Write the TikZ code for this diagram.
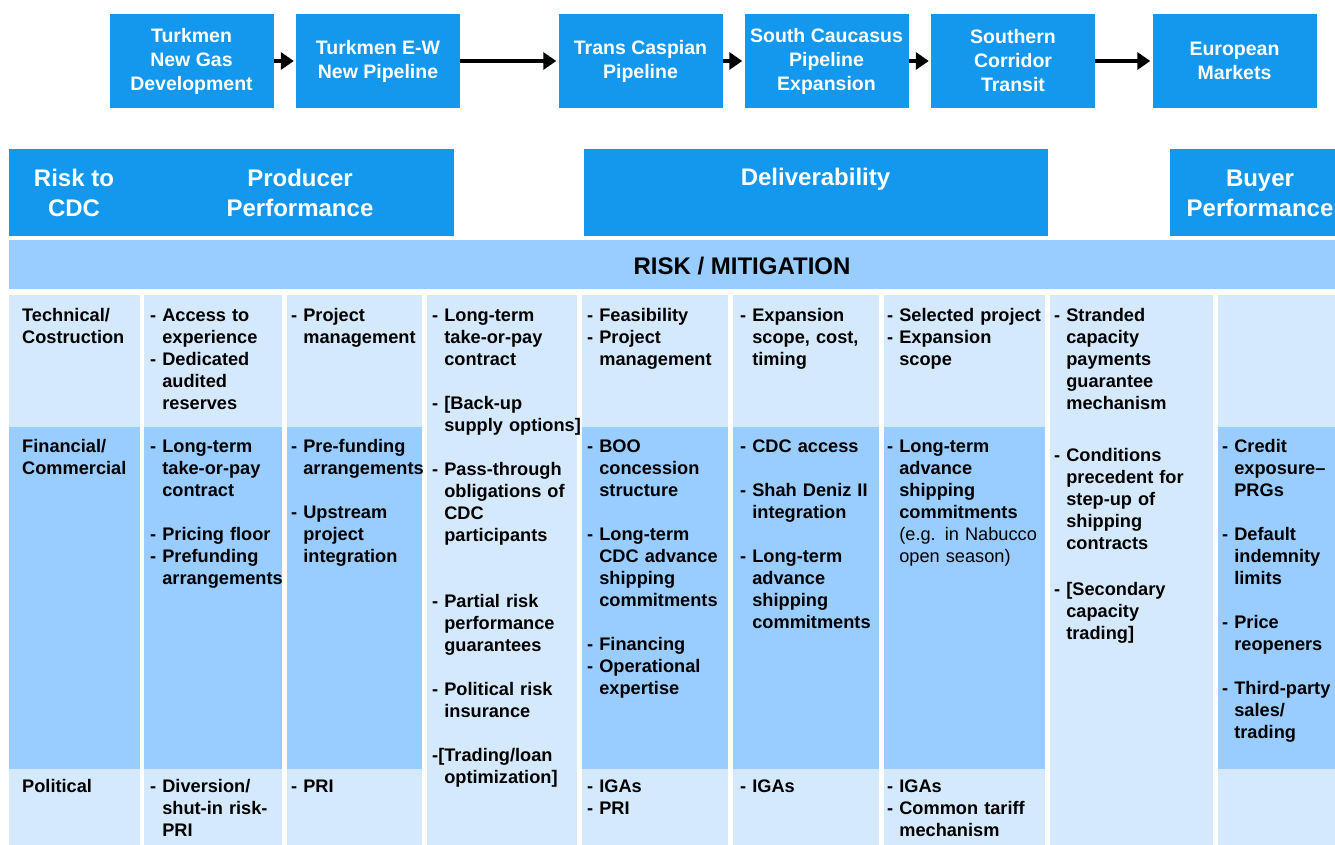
\documentclass[tikz,border=0pt]{standalone}
\usepackage{fontspec}
\setmainfont{Liberation Sans}
\usetikzlibrary{arrows.meta}
\definecolor{topblue}{RGB}{20,152,238}
\definecolor{midblue}{RGB}{153,204,255}
\definecolor{lightblue}{RGB}{213,233,252}
\newcommand\ind{\hphantom{- }}
\newcommand\cellfont{\fontsize{18.2}{22}\selectfont\bfseries}
\newcommand\topfont{\fontsize{19.5}{24}\selectfont\bfseries}
\newcommand\headfont{\fontsize{24}{30}\selectfont\bfseries}
\begin{document}
\begin{tikzpicture}[x=1pt,y=-1pt,
  topbox/.style={fill=topblue, minimum width=164pt, minimum height=94pt, inner sep=0pt, text=white, font=\topfont, align=center},
  flow/.style={line width=4pt, -{Triangle[length=13pt,width=17pt]}, shorten >=2pt},
  headbar/.style={fill=topblue, inner sep=0pt, anchor=north west, minimum height=87pt},
  headtext/.style={text=white, font=\headfont, align=center, inner sep=0pt},
  cell/.style={anchor=north west, inner sep=0pt, yshift=13.4pt, text width=220pt, align=left, font=\cellfont},
]
\path[use as bounding box, clip] (0,0) rectangle (1335,845);
\fill[white] (0,0) rectangle (1335,845);

% top flow
\node[topbox] (b1) at (191.5,61) {Turkmen\\New Gas\\Development};
\node[topbox] (b2) at (378,61) {Turkmen E-W\\New Pipeline};
\node[topbox] (b3) at (640.5,61) {Trans Caspian\\Pipeline};
\node[topbox] (b4) at (826.5,61) {South Caucasus\\Pipeline\\Expansion};
\node[topbox] (b5) at (1013,61) {Southern\\Corridor\\Transit};
\node[topbox] (b6) at (1234.5,61) {European\\Markets};
\draw[flow] (b1) -- (b2);
\draw[flow] (b2) -- (b3);
\draw[flow] (b3) -- (b4);
\draw[flow] (b4) -- (b5);
\draw[flow] (b5) -- (b6);

% header bars
\node[headbar, minimum width=445pt] (h1) at (9,149) {};
\node[headbar, minimum width=464pt] (h2) at (584,149) {};
\node[headbar, minimum width=180pt] (h3) at (1170,149) {};
\node[headtext] (t1) at (74,193) {Risk to\\CDC};
\node[headtext] (t2) at (300,193) {Producer\\Performance};
\node[headtext] (t3) at (815.5,179) {Deliverability};
\node[headtext] (t4) at (1260,193) {Buyer\\Performance};

% band
\node[fill=midblue, inner sep=0pt, anchor=north west, minimum width=1330pt, minimum height=49pt] (band) at (9,240) {};
\node[font=\fontsize{24}{28}\selectfont\bfseries, inner sep=0pt] (bandtext) at (742,266) {RISK / MITIGATION};

% cells
\foreach \a/\b in {9/140,144/282,287/422,582/728,733/879,884/1045,1218/1335} {
  \fill[lightblue] (\a,295) rectangle (\b,427);
  \fill[midblue] (\a,427) rectangle (\b,769);
  \fill[lightblue] (\a,769) rectangle (\b,845);
}
\fill[lightblue] (427,295) rectangle (577,845);
\fill[lightblue] (1050,295) rectangle (1213,845);

% column 0
\node[cell] (c01) at (22,322) {Technical/\\Costruction};
\node[cell] (c02) at (22,453) {Financial/\\Commercial};
\node[cell] (c03) at (22,793) {Political};

% column 1
\node[cell] (c11) at (150,322) {- Access to\\\ind experience\\- Dedicated\\\ind audited\\\ind reserves};
\node[cell] (c12) at (150,453) {- Long-term\\\ind take-or-pay\\\ind contract\\[22pt]- Pricing floor\\- Prefunding\\\ind arrangements};
\node[cell] (c13) at (150,793) {- Diversion/\\\ind shut-in risk-\\\ind PRI};

% column 2
\node[cell] (c21) at (291,322) {- Project\\\ind management};
\node[cell] (c22) at (291,453) {- Pre-funding\\\ind arrangements\\[22pt]- Upstream\\\ind project\\\ind integration};
\node[cell] (c23) at (291,793) {- PRI};

% column 3
\node[cell] (c3) at (432,322) {- Long-term\\\ind take-or-pay\\\ind contract\\[22pt]- [Back-up\\\ind supply options]\\[22pt]- Pass-through\\\ind obligations of\\\ind CDC\\\ind participants\\[44pt]- Partial risk\\\ind performance\\\ind guarantees\\[22pt]- Political risk\\\ind insurance\\[22pt]-[Trading/loan\\\ind optimization]};

% column 4
\node[cell] (c41) at (587,322) {- Feasibility\\- Project\\\ind management};
\node[cell] (c42) at (587,453) {- BOO\\\ind concession\\\ind structure\\[22pt]- Long-term\\\ind CDC advance\\\ind shipping\\\ind commitments\\[22pt]- Financing\\- Operational\\\ind expertise};
\node[cell] (c43) at (587,793) {- IGAs\\- PRI};

% column 5
\node[cell] (c51) at (740,322) {- Expansion\\\ind scope, cost,\\\ind timing};
\node[cell] (c52) at (740,453) {- CDC access\\[22pt]- Shah Deniz II\\\ind integration\\[22pt]- Long-term\\\ind advance\\\ind shipping\\\ind commitments};
\node[cell] (c53) at (740,793) {- IGAs};

% column 6
\node[cell] (c61) at (887,322) {- Selected project\\- Expansion\\\ind scope};
\node[cell] (c62) at (887,453) {- Long-term\\\ind advance\\\ind shipping\\\ind commitments\\\ind{\mdseries (e.g. in Nabucco}\\\ind{\mdseries open season)}};
\node[cell] (c63) at (887,793) {- IGAs\\- Common tariff\\\ind mechanism};

% column 7
\node[cell] (c7) at (1054,322) {- Stranded\\\ind capacity\\\ind payments\\\ind guarantee\\\ind mechanism\\[30pt]- Conditions\\\ind precedent for\\\ind step-up of\\\ind shipping\\\ind contracts\\[24pt]- [Secondary\\\ind capacity\\\ind trading]};

% column 8
\node[cell] (c82) at (1222,453) {- Credit\\\ind exposure–\\\ind PRGs\\[22pt]- Default\\\ind indemnity\\\ind limits\\[22pt]- Price\\\ind reopeners\\[22pt]- Third-party\\\ind sales/\\\ind trading};
\end{tikzpicture}
\end{document}
